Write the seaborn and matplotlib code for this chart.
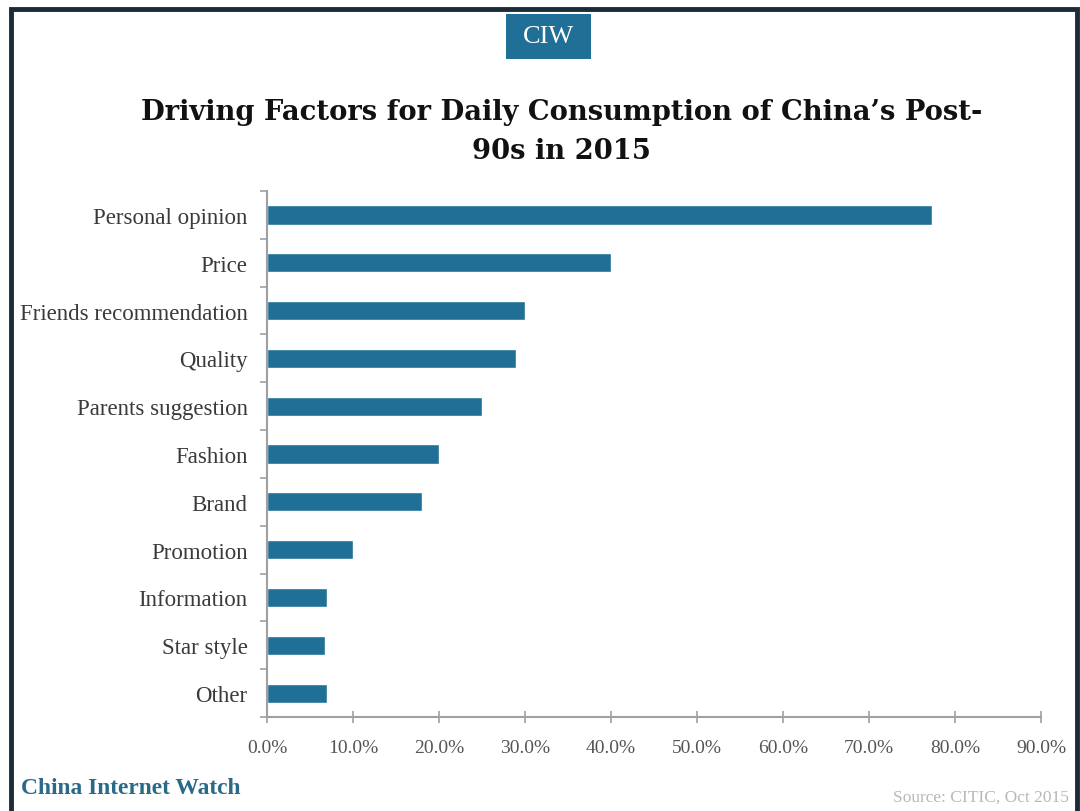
import matplotlib
matplotlib.use("Agg")
import matplotlib.pyplot as plt
import seaborn as sns
import pandas as pd
import numpy as np
from matplotlib.patches import Rectangle
from matplotlib.ticker import FuncFormatter

categories = ["Personal opinion", "Price", "Friends recommendation", "Quality",
              "Parents suggestion", "Fashion", "Brand", "Promotion",
              "Information", "Star style", "Other"]
values = [77.3, 40.0, 30.0, 29.0, 25.0, 20.0, 18.0, 10.0, 7.0, 6.8, 7.0]
x_ticks = [0, 10, 20, 30, 40, 50, 60, 70, 80, 90]

sns.set_theme(style="white")
plt.rcParams['font.family'] = ['Liberation Serif', 'DejaVu Serif']

df = pd.DataFrame({"factor": categories, "share": values})

fig = plt.figure(figsize=(10.8, 8.12), dpi=100)
fig.patch.set_facecolor("white")

# frame
fig.patches.append(Rectangle((0.0105, -0.01), 0.987, 0.9975, transform=fig.transFigure,
                             fill=False, edgecolor="#1c2b3a", linewidth=3.5, zorder=0))

ax = fig.add_axes([0.2472, 0.1158, 0.7167, 0.6477])
sns.barplot(data=df, y="factor", x="share", orient="h", color="#1f6f96",
            saturation=1, width=0.4, ax=ax)

ax.set_xlim(0, 90)
ax.set_ylim(10.5, -0.5)
ax.set_xticks(x_ticks)
ax.xaxis.set_major_formatter(FuncFormatter(lambda v, p: f"{v:.1f}%"))
ax.set_xlabel("")
ax.set_ylabel("")
for s in ["top", "right"]:
    ax.spines[s].set_visible(False)
for s in ["left", "bottom"]:
    ax.spines[s].set_color("#a0a0a0")
    ax.spines[s].set_linewidth(1.5)

ax.set_yticks(np.arange(-0.5, 11, 1), minor=True)
ax.tick_params(axis="y", which="major", length=0, labelsize=16.5, labelcolor="#3a3a3a", pad=14)
ax.tick_params(axis="y", which="minor", length=5, color="#a0a0a0", width=1.2, left=True)
ax.tick_params(axis="x", which="major", length=8, direction="inout", color="#a0a0a0",
               width=1.2, labelsize=14, labelcolor="#555555", pad=12, bottom=True)

# CIW badge
fig.patches.append(Rectangle((0.4685, 0.9255), 0.0790, 0.0560, transform=fig.transFigure,
                             facecolor="#1f6f96", edgecolor="none", zorder=1))
fig.text(0.508, 0.954, "CIW", ha="center", va="center", color="white", fontsize=19)

fig.text(0.52, 0.862, "Driving Factors for Daily Consumption of China\u2019s Post-",
         ha="center", va="center", fontsize=19.7, fontweight="bold", color="#111111",
         family=["DejaVu Serif"])
fig.text(0.52, 0.813, "90s in 2015", ha="center", va="center", fontsize=19.7,
         fontweight="bold", color="#111111", family=["DejaVu Serif"])

fig.text(0.019, 0.029, "China Internet Watch", ha="left", va="center", fontsize=16.9,
         fontweight="bold", color="#2a6a88")
fig.text(0.99, 0.018, "Source: CITIC, Oct 2015", ha="right", va="center", fontsize=12.5,
         color="#b8b8b8")

fig.savefig("out.png", dpi=100, facecolor="white")
